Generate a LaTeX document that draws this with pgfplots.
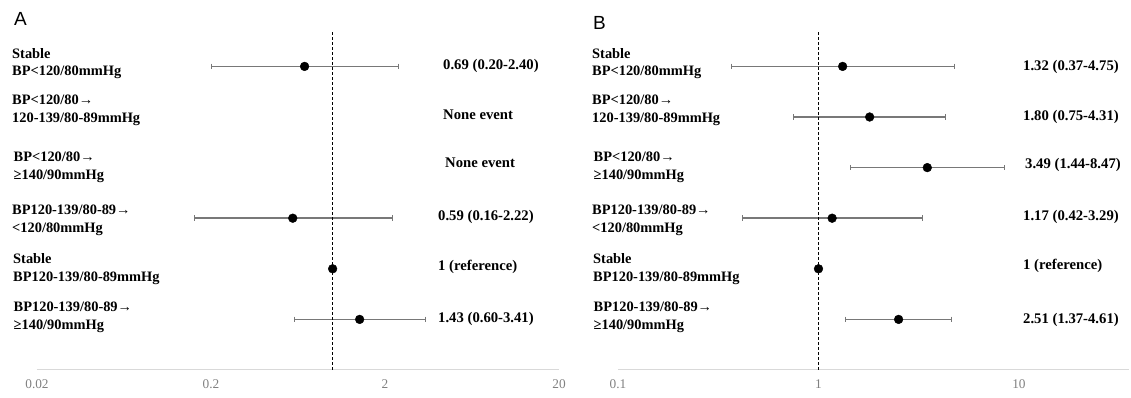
\documentclass[border=0pt]{standalone}
\usepackage{fontspec}
\setmainfont{Liberation Serif}
\newfontfamily\panelfont{Liberation Sans}
\usepackage{pgfplots}
\pgfplotsset{compat=1.18}
\definecolor{cigray}{HTML}{787878}
\definecolor{axgray}{HTML}{D9D9D9}
\definecolor{tickgray}{HTML}{808080}
\tikzset{
  cibar/.style={cigray, line width=1.5pt, mark=|, mark size=2.8pt, mark options={line width=1pt, solid}},
  refdash/.style={black, line width=1.2pt, dash pattern=on 3pt off 2pt},
  dotpt/.style={only marks, mark=*, mark size=4.4pt, black},
  lab/.style={anchor=west, align=left, inner sep=0pt, font=\fontsize{14.4}{17.7}\selectfont\bfseries},
  val/.style={anchor=west, inner sep=0pt, font=\fontsize{14.7}{17}\selectfont\bfseries},
}
\begin{document}
\begin{tikzpicture}
\useasboundingbox (0,0) rectangle (1131pt,398pt);
% Panel A
\begin{axis}[xmode=log, scale only axis, height=338pt, ymin=0, ymax=6.68,
    axis x line=bottom, axis y line=none,
    x axis line style={-, draw=axgray, line width=1pt},
    major tick length=0pt, minor tick length=0pt, ytick=\empty,
    xticklabel style={font=\fontsize{13.3}{15}\selectfont, text=tickgray, yshift=-6pt},
    clip=false, anchor=south west,
    at={(37pt,28pt)}, width=522pt, xmin=0.02, xmax=20,
    xtick={0.02,0.2,2,20}, xticklabels={0.02,0.2,2,20}]
\addplot[cibar] coordinates {(0.20,6) (2.40,6)};
\addplot[cibar] coordinates {(0.16,3) (2.22,3)};
\addplot[cibar] coordinates {(0.60,1) (3.41,1)};
\addplot[refdash] coordinates {(1,0) (1,6.68)};
\addplot[dotpt] coordinates {(0.69,6) (0.59,3) (1,2) (1.43,1)};
\end{axis}
% Panel B
\begin{axis}[xmode=log, scale only axis, height=338pt, ymin=0, ymax=6.68,
    axis x line=bottom, axis y line=none,
    x axis line style={-, draw=axgray, line width=1pt},
    major tick length=0pt, minor tick length=0pt, ytick=\empty,
    xticklabel style={font=\fontsize{13.3}{15}\selectfont, text=tickgray, yshift=-6pt},
    clip=false, anchor=south west,
    at={(618pt,28pt)}, width=511pt, xmin=0.1, xmax=35.4,
    xtick={0.1,1,10}, xticklabels={0.1,1,10}]
\addplot[cibar] coordinates {(0.37,6) (4.75,6)};
\addplot[cibar] coordinates {(0.75,5) (4.31,5)};
\addplot[cibar] coordinates {(1.44,4) (8.47,4)};
\addplot[cibar] coordinates {(0.42,3) (3.29,3)};
\addplot[cibar] coordinates {(1.37,1) (4.61,1)};
\addplot[refdash] coordinates {(1,0) (1,6.68)};
\addplot[dotpt] coordinates {(1.32,6) (1.80,5) (3.49,4) (1.17,3) (1,2) (2.51,1)};
\end{axis}
% panel letters
\node[anchor=west, inner sep=0pt, font=\panelfont\fontsize{19}{21}\selectfont] at (14pt,379pt) {A};
\node[anchor=west, inner sep=0pt, font=\panelfont\fontsize{19}{21}\selectfont] at (593pt,375pt) {B};
% row labels A
\node[lab] at (12pt,334.5pt) {Stable\\BP<120/80mmHg};
\node[lab] at (12pt,287.5pt) {BP<120/80→\\120-139/80-89mmHg};
\node[lab] at (13.5pt,231pt) {BP<120/80→\\≥140/90mmHg};
\node[lab] at (12pt,177.5pt) {BP120-139/80-89→\\<120/80mmHg};
\node[lab] at (13pt,129pt) {Stable\\BP120-139/80-89mmHg};
\node[lab] at (13.5pt,80.5pt) {BP120-139/80-89→\\≥140/90mmHg};
% row labels B
\node[lab] at (592pt,334.5pt) {Stable\\BP<120/80mmHg};
\node[lab] at (592pt,287.5pt) {BP<120/80→\\120-139/80-89mmHg};
\node[lab] at (593.5pt,231pt) {BP<120/80→\\≥140/90mmHg};
\node[lab] at (592pt,177.5pt) {BP120-139/80-89→\\<120/80mmHg};
\node[lab] at (593pt,129pt) {Stable\\BP120-139/80-89mmHg};
\node[lab] at (593.5pt,80.5pt) {BP120-139/80-89→\\≥140/90mmHg};
% values A
\node[val] at (443pt,332pt) {0.69 (0.20-2.40)};
\node[val] at (443pt,283pt) {None event};
\node[val] at (445pt,235pt) {None event};
\node[val] at (438pt,181pt) {0.59 (0.16-2.22)};
\node[val] at (438pt,131pt) {1 (reference)};
\node[val] at (438pt,79pt) {1.43 (0.60-3.41)};
% values B
\node[val] at (1023pt,331.5pt) {1.32 (0.37-4.75)};
\node[val] at (1023pt,281.5pt) {1.80 (0.75-4.31)};
\node[val] at (1025pt,233pt) {3.49 (1.44-8.47)};
\node[val] at (1023pt,181pt) {1.17 (0.42-3.29)};
\node[val] at (1023pt,132.5pt) {1 (reference)};
\node[val] at (1023pt,78pt) {2.51 (1.37-4.61)};
\end{tikzpicture}
\end{document}
